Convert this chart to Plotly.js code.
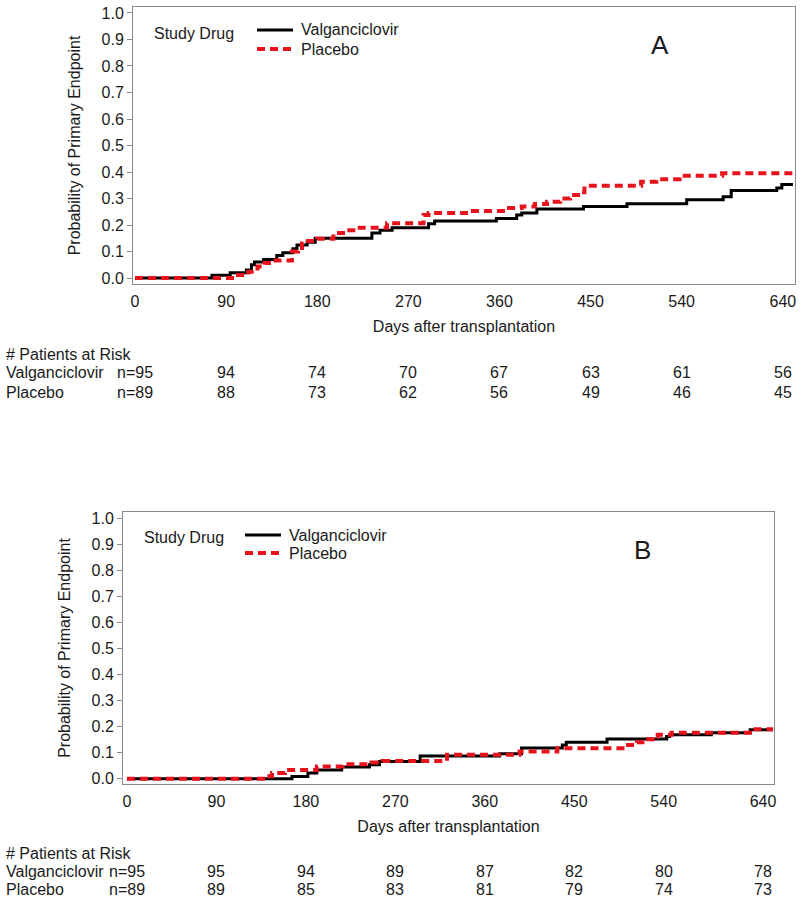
<!DOCTYPE html>
<html>
<head>
<meta charset="utf-8">
<script src="https://cdn.plot.ly/plotly-3.0.1.min.js"></script>
<style>html,body{margin:0;padding:0;background:#fff;}#chart{width:800px;height:898px;}</style>
</head>
<body>
<div id="chart"></div>
<script>
// ---- Data ----
const tickDays = [0, 90, 180, 270, 360, 450, 540, 640];
const seriesNames = ['Valganciclovir', 'Placebo'];

const riskValgA = [95, 94, 74, 70, 67, 63, 61, 56];
const riskPlacA = [89, 88, 73, 62, 56, 49, 46, 45];
const riskValgB = [95, 95, 94, 89, 87, 82, 80, 78];
const riskPlacB = [89, 89, 85, 83, 81, 79, 74, 73];

// Panel A – Valganciclovir
const valgA_t = [0, 76, 94, 110, 115, 118, 127, 140, 146, 156, 160, 170, 178, 234, 242, 254, 290, 296, 357, 377, 382, 397, 443, 486, 545, 581, 589, 634, 639, 650];
const valgA_p = [0, 0.01, 0.02, 0.03, 0.05, 0.06, 0.07, 0.085, 0.095, 0.11, 0.125, 0.135, 0.15, 0.17, 0.18, 0.19, 0.205, 0.215, 0.225, 0.238, 0.245, 0.26, 0.27, 0.28, 0.295, 0.307, 0.33, 0.34, 0.353, 0.353];
// Panel A – Placebo
const placA_t = [0, 98, 112, 121, 128, 136, 155, 161, 165, 171, 180, 196, 209, 222, 249, 285, 290, 330, 367, 382, 395, 407, 420, 430, 440, 444, 500, 515, 538, 580, 650];
const placA_p = [0, 0.011, 0.024, 0.043, 0.057, 0.066, 0.10, 0.113, 0.13, 0.14, 0.148, 0.17, 0.18, 0.19, 0.207, 0.238, 0.245, 0.253, 0.264, 0.27, 0.279, 0.288, 0.30, 0.313, 0.324, 0.348, 0.363, 0.373, 0.386, 0.395, 0.395];
// Panel B – Valganciclovir
const valgB_t = [0, 166, 182, 191, 216, 244, 254, 295, 375, 397, 438, 442, 483, 543, 546, 588, 627, 650];
const valgB_p = [0, 0.009, 0.022, 0.034, 0.045, 0.054, 0.066, 0.087, 0.096, 0.118, 0.13, 0.14, 0.153, 0.162, 0.169, 0.177, 0.188, 0.188];
// Panel B – Placebo
const placB_t = [0, 139, 146, 159, 191, 217, 246, 257, 322, 395, 433, 501, 513, 521, 529, 534, 548, 629, 650];
const placB_p = [0, 0.01, 0.022, 0.034, 0.047, 0.056, 0.062, 0.068, 0.092, 0.105, 0.117, 0.13, 0.14, 0.152, 0.16, 0.169, 0.177, 0.19, 0.19];

// ---- Styling ----
const FONT = 'Arial, "Liberation Sans", sans-serif';
const TXT = '#1a1a1a';
const W = 800, H = 898;
const px = v => v / W;
const py = v => 1 - v / H;
const RED = 'rgb(232,18,28)';
const RED_DASH = '8px,5px';

const blackLine = {shape: 'hv', color: '#000', width: 3};
const redLine = {shape: 'hv', color: RED, width: 4, dash: RED_DASH};

const traces = [
  {x: valgA_t, y: valgA_p, mode: 'lines', name: seriesNames[0], line: blackLine, xaxis: 'x', yaxis: 'y'},
  {x: placA_t, y: placA_p, mode: 'lines', name: seriesNames[1], line: redLine, xaxis: 'x', yaxis: 'y'},
  {x: valgB_t, y: valgB_p, mode: 'lines', name: seriesNames[0], line: blackLine, xaxis: 'x2', yaxis: 'y2'},
  {x: placB_t, y: placB_p, mode: 'lines', name: seriesNames[1], line: redLine, xaxis: 'x2', yaxis: 'y2'}
];

function xAxis(domain, range, anchor) {
  return {
    domain: domain, range: range, anchor: anchor,
    showline: true, mirror: true, linecolor: '#8a8a8a', linewidth: 1,
    showgrid: false, zeroline: false, ticks: '',
    tickmode: 'array', tickvals: tickDays, ticktext: tickDays.map(String),
    ticklabelstandoff: 3,
    tickfont: {family: FONT, size: 16, color: TXT},
    title: {text: 'Days after transplantation', font: {family: FONT, size: 16, color: TXT}, standoff: 11}
  };
}
function yAxis(domain, range, anchor) {
  return {
    domain: domain, range: range, anchor: anchor,
    showline: true, mirror: true, linecolor: '#8a8a8a', linewidth: 1,
    showgrid: false, zeroline: false,
    ticks: 'outside', ticklen: 5, tickcolor: '#8a8a8a',
    tickmode: 'linear', tick0: 0, dtick: 0.1, tickformat: '.1f',
    tickfont: {family: FONT, size: 16, color: TXT},
    title: {text: 'Probability of Primary Endpoint', font: {family: FONT, size: 16, color: TXT}, standoff: 16}
  };
}

const annFont = {family: FONT, size: 16, color: TXT};
const annotations = [];
const shapes = [];

function addText(text, x, y, xanchor, font, xref) {
  annotations.push({text: text, xref: xref || 'paper', yref: 'paper', x: xref ? x : px(x), y: py(y),
    xanchor: xanchor, yanchor: 'middle', showarrow: false, font: font || annFont});
}

// Legend block drawn as a key (title, swatches, names)
function legendKey(titleX, titleY, lineX0, lineX1, yBlack, yRed, textX) {
  addText('Study Drug', titleX, titleY, 'left');
  shapes.push({type: 'line', xref: 'paper', yref: 'paper', x0: px(lineX0), x1: px(lineX1), y0: py(yBlack), y1: py(yBlack), line: {color: '#000', width: 3}});
  shapes.push({type: 'line', xref: 'paper', yref: 'paper', x0: px(lineX0), x1: px(lineX1), y0: py(yRed), y1: py(yRed), line: {color: RED, width: 4, dash: RED_DASH}});
  addText(seriesNames[0], textX, yBlack, 'left');
  addText(seriesNames[1], textX, yRed, 'left');
}
legendKey(152, 33, 257, 293, 30, 49, 299);
legendKey(142, 537, 245, 281, 535, 553, 287);

addText('A', 660, 45, 'center', {family: FONT, size: 26, color: TXT});
addText('B', 642, 550, 'center', {family: FONT, size: 26, color: TXT});

function riskTable(xref, yHead, yRow1, yRow2, valg, plac) {
  addText('# Patients at Risk', 4, yHead, 'left');
  addText(seriesNames[0], 4, yRow1, 'left');
  addText(seriesNames[1], 4, yRow2, 'left');
  tickDays.forEach((d, i) => {
    addText((i === 0 ? 'n=' : '') + valg[i], d, yRow1, 'center', annFont, xref);
    addText((i === 0 ? 'n=' : '') + plac[i], d, yRow2, 'center', annFont, xref);
  });
}
riskTable('x', 354, 373, 392, riskValgA, riskPlacA);
riskTable('x2', 853, 871, 889, riskValgB, riskPlacB);

const layout = {
  width: W, height: H,
  margin: {l: 0, r: 0, t: 0, b: 0},
  paper_bgcolor: '#fff', plot_bgcolor: '#fff',
  showlegend: false,
  xaxis: xAxis([px(133), px(795)], [-2, 652], 'y'),
  yaxis: yAxis([py(284), py(7)], [-0.0226, 1.0226], 'x'),
  xaxis2: xAxis([px(123), px(774)], [-4, 651], 'y2'),
  yaxis2: yAxis([py(784), py(512)], [-0.02, 1.023], 'x2'),
  annotations: annotations,
  shapes: shapes
};

Plotly.newPlot('chart', traces, layout, {staticPlot: true, displayModeBar: false});
</script>
</body>
</html>
